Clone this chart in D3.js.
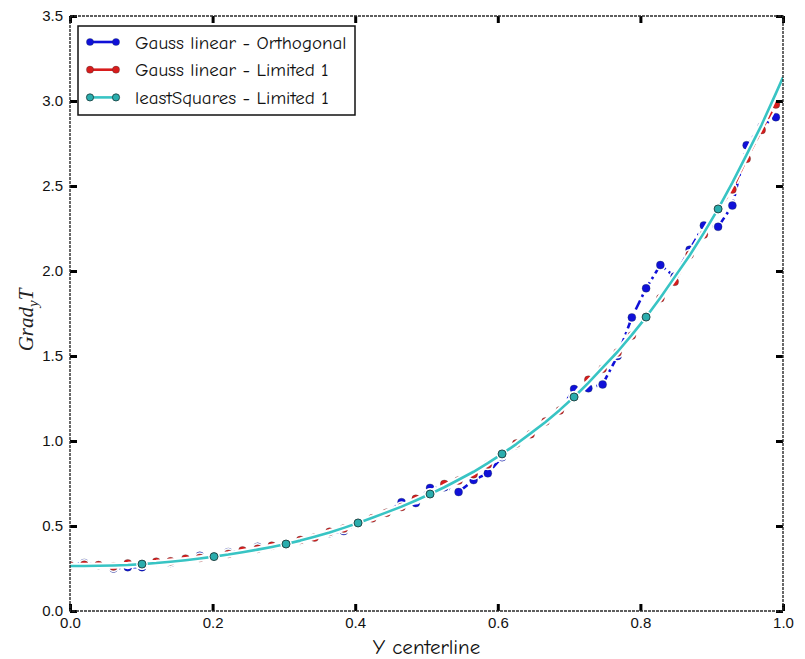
<!DOCTYPE html>
<html>
<head>
<meta charset="utf-8">
<script src="https://cdn.jsdelivr.net/npm/d3@7"></script>
<style>
  body { margin: 0; background: #fff; }
  svg { display: block; }
</style>
</head>
<body>
<svg id="chart" width="805" height="659"></svg>
<script>
// Sample positions along the centreline (every other cell of the 100-cell grid)
const xPos = [0.000, 0.020, 0.040, 0.061, 0.081, 0.101, 0.121, 0.141, 0.162, 0.182,
              0.202, 0.222, 0.242, 0.263, 0.283, 0.303, 0.323, 0.343, 0.364, 0.384,
              0.404, 0.424, 0.444, 0.465, 0.485, 0.505, 0.525, 0.545, 0.566, 0.586,
              0.606, 0.626, 0.646, 0.667, 0.687, 0.707, 0.727, 0.747, 0.768, 0.788,
              0.808, 0.828, 0.848, 0.869, 0.889, 0.909, 0.929, 0.949, 0.970, 0.990];

// Gauss linear - Orthogonal
const gaussOrthY = [0.275, 0.283, 0.268, 0.250, 0.258, 0.258, 0.285, 0.283, 0.305, 0.325,
                    0.322, 0.347, 0.352, 0.378, 0.380, 0.398, 0.412, 0.428, 0.458, 0.470,
                    0.515, 0.540, 0.575, 0.640, 0.635, 0.724, 0.728, 0.700, 0.770, 0.810,
                    0.905, 0.976, 1.035, 1.110, 1.175, 1.306, 1.310, 1.333, 1.500, 1.727,
                    1.898, 2.035, 1.967, 2.125, 2.268, 2.260, 2.385, 2.740, 2.850, 2.905];

// Gauss linear - Limited 1
const gaussLimY = [0.268, 0.272, 0.270, 0.262, 0.280, 0.276, 0.290, 0.292, 0.308, 0.312,
                   0.325, 0.336, 0.356, 0.366, 0.384, 0.395, 0.418, 0.432, 0.466, 0.485,
                   0.518, 0.545, 0.578, 0.612, 0.660, 0.690, 0.747, 0.768, 0.805, 0.862,
                   0.918, 0.985, 1.040, 1.115, 1.180, 1.262, 1.360, 1.425, 1.520, 1.620,
                   1.735, 1.840, 1.937, 2.095, 2.215, 2.360, 2.480, 2.660, 2.830, 2.980];

// leastSquares - Limited 1 (same samples plus the wall value at 1.0)
const lsqX = [...xPos, 1.000];
const lsqY = [0.265, 0.265, 0.266, 0.268, 0.271, 0.276, 0.282, 0.290, 0.299, 0.309,
              0.320, 0.332, 0.346, 0.361, 0.377, 0.394, 0.414, 0.437, 0.462, 0.489,
              0.518, 0.548, 0.580, 0.614, 0.650, 0.688, 0.728, 0.772, 0.819, 0.870,
              0.924, 0.982, 1.045, 1.112, 1.183, 1.259, 1.342, 1.431, 1.525, 1.624,
              1.729, 1.843, 1.964, 2.091, 2.224, 2.365, 2.520, 2.685, 2.860, 3.045,
              3.140];

const seriesNames = ["Gauss linear - Orthogonal", "Gauss linear - Limited 1", "leastSquares - Limited 1"];

const xTicks = [0.0, 0.2, 0.4, 0.6, 0.8, 1.0];
const yTicks = [0.0, 0.5, 1.0, 1.5, 2.0, 2.5, 3.0, 3.5];

const W = 805, H = 659;
const plotLeft = 70, plotRight = 783, plotTop = 16, plotBottom = 611;

const svg = d3.select("#chart");

const x = d3.scaleLinear().domain([0, 1]).range([plotLeft, plotRight]);
const y = d3.scaleLinear().domain([0, 3.5]).range([plotBottom, plotTop]);

svg.append("rect").attr("width", W).attr("height", H).attr("fill", "#fff");

svg.append("defs").append("clipPath").attr("id", "plotClip")
  .append("rect")
  .attr("x", plotLeft).attr("y", plotTop)
  .attr("width", plotRight - plotLeft).attr("height", plotBottom - plotTop);

// every: marker spacing; first/last: index range that carries markers
const series = [
  { name: seriesNames[0], xs: xPos, ys: gaussOrthY, color: "#1010d8", dash: "10,4,2.5,4",
    fill: "#1010d8", every: 1, first: 0, last: 49 },
  { name: seriesNames[1], xs: xPos, ys: gaussLimY, color: "#d81c1c", dash: "8,4",
    fill: "#d81c1c", every: 1, first: 0, last: 49 },
  { name: seriesNames[2], xs: lsqX, ys: lsqY, color: "#38c4c4", dash: null,
    fill: "#2aadad", every: 5, first: 5, last: 45 }
];

const plot = svg.append("g").attr("clip-path", "url(#plotClip)");
const line = d3.line().x(d => x(d[0])).y(d => y(d[1]));

series.forEach(s => {
  const pts = s.xs.map((v, i) => [v, s.ys[i]]);
  const g = plot.append("g");
  // white halo under the line
  g.append("path").datum(pts).attr("d", line)
    .attr("fill", "none").attr("stroke", "#fff").attr("stroke-width", 6.5)
    .attr("stroke-linejoin", "round")
    .attr("stroke-dasharray", s.dash);
  g.append("path").datum(pts).attr("d", line)
    .attr("fill", "none").attr("stroke", s.color).attr("stroke-width", 2.6)
    .attr("stroke-linejoin", "round")
    .attr("stroke-dasharray", s.dash);
  const marks = pts.filter((d, i) => i >= s.first && i <= s.last && (i - s.first) % s.every === 0);
  g.selectAll(null).data(marks).join("circle")
    .attr("cx", d => x(d[0])).attr("cy", d => y(d[1])).attr("r", 5.8)
    .attr("fill", "#fff");
  g.selectAll(null).data(marks).join("circle")
    .attr("cx", d => x(d[0])).attr("cy", d => y(d[1])).attr("r", 4)
    .attr("fill", s.fill).attr("stroke", "#1a3a3a").attr("stroke-width", s.every > 1 ? 0.9 : 0.3);
});

// Axes: inward ticks on all four sides, labels bottom and left
const fmt = d3.format(".1f");
const axisFont = "'Liberation Sans', Arial, sans-serif";

function styleAxis(g) {
  g.select(".domain").remove();
  g.selectAll(".tick line").attr("stroke", "#000").attr("stroke-width", 3);
  g.selectAll(".tick text").attr("fill", "#111")
    .style("font-family", axisFont).style("font-size", "15px");
}

svg.append("g").attr("transform", `translate(0,${plotBottom})`)
  .call(d3.axisBottom(x).tickValues(xTicks).tickFormat(fmt).tickSize(-7).tickPadding(6))
  .call(styleAxis);
svg.append("g").attr("transform", `translate(0,${plotTop})`)
  .call(d3.axisTop(x).tickValues(xTicks).tickFormat("").tickSize(-7))
  .call(styleAxis);
svg.append("g").attr("transform", `translate(${plotLeft},0)`)
  .call(d3.axisLeft(y).tickValues(yTicks).tickFormat(fmt).tickSize(-7).tickPadding(7))
  .call(styleAxis);
svg.append("g").attr("transform", `translate(${plotRight},0)`)
  .call(d3.axisRight(y).tickValues(yTicks).tickFormat("").tickSize(-7))
  .call(styleAxis);

// frame
svg.append("rect")
  .attr("x", plotLeft).attr("y", plotTop)
  .attr("width", plotRight - plotLeft).attr("height", plotBottom - plotTop)
  .attr("fill", "none").attr("stroke", "#2a2a2a").attr("stroke-width", 1.4)
  .attr("stroke-dasharray", "3,1");

// axis titles
const handFont = "'Comic Sans MS', 'Comic Neue', 'DejaVu Sans', sans-serif";
svg.append("text")
  .attr("x", (plotLeft + plotRight) / 2 + 0).attr("y", 654)
  .attr("text-anchor", "middle")
  .style("font-family", handFont).style("font-size", "21px").attr("fill", "#111")
  .text("Y centerline");

const yTitle = svg.append("text")
  .attr("transform", "translate(33,320) rotate(-90)")
  .attr("text-anchor", "middle")
  .style("font-family", "'Liberation Serif', 'DejaVu Serif', serif")
  .style("font-style", "italic").style("font-size", "21px").attr("fill", "#222");
yTitle.append("tspan").text("Grad");
yTitle.append("tspan").attr("dy", 5).style("font-size", "15px").text("y");
yTitle.append("tspan").attr("dy", -5).text("T");

// legend
const lg = svg.append("g");
lg.append("rect")
  .attr("x", 78).attr("y", 26).attr("width", 277).attr("height", 89)
  .attr("fill", "#fff").attr("stroke", "#111").attr("stroke-width", 1.5);
series.forEach((s, i) => {
  const ly = 42 + i * 27.7;
  lg.append("line").attr("x1", 90).attr("x2", 116).attr("y1", ly).attr("y2", ly)
    .attr("stroke", s.color).attr("stroke-width", 2.6);
  [90, 116].forEach(cx => {
    lg.append("circle").attr("cx", cx).attr("cy", ly).attr("r", 3.6)
      .attr("fill", s.fill).attr("stroke", "#1a3a3a").attr("stroke-width", s.every > 1 ? 0.8 : 0.3);
  });
  lg.append("text").attr("x", 135).attr("y", ly).attr("dy", "0.35em")
    .style("font-family", handFont).style("font-size", "19px").attr("fill", "#111")
    .text(s.name);
});
</script>
</body>
</html>
